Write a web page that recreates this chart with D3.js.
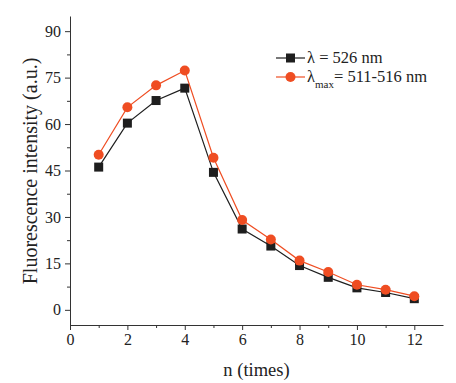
<!DOCTYPE html>
<html>
<head>
<meta charset="utf-8">
<script src="https://cdn.jsdelivr.net/npm/d3@7"></script>
<style>
  body { margin: 0; background: #fff; }
  svg text { font-family: "Liberation Serif", "Times New Roman", Times, "DejaVu Serif", serif !important; fill: #222; }
  .axis path, .axis line { stroke: #333; }
</style>
</head>
<body>
<div id="chart"></div>
<script>
// data
var nTimes = [1, 2, 3, 4, 5, 6, 7, 8, 9, 10, 11, 12];
var black526 = [46.1, 60.3, 67.6, 71.6, 44.4, 26.1, 20.6, 14.3, 10.5, 7.1, 5.6, 3.6];
var redMax = [50.1, 65.4, 72.5, 77.3, 49.1, 29.0, 22.7, 15.9, 12.2, 8.1, 6.5, 4.4];
var xTicks = [0, 2, 4, 6, 8, 10, 12];
var yTicks = [0, 15, 30, 45, 60, 75, 90];

var W = 456, H = 383;
var margin = { top: 16, right: 13, bottom: 58, left: 70 };
var width = W - margin.left - margin.right;
var height = H - margin.top - margin.bottom;
var serif = '"Liberation Serif", "Times New Roman", serif';

var svg = d3.select("#chart").append("svg")
    .attr("width", W)
    .attr("height", H)
    .attr("font-family", serif)
    .append("g")
    .attr("transform", "translate(" + margin.left + "," + margin.top + ")");

var xScale = d3.scaleLinear().domain([0, 13]).range([0, width]);
var yScale = d3.scaleLinear().domain([-4.9, 94.9]).range([height, 0]);

// minor ticks
svg.append("g")
    .attr("class", "axis")
    .attr("transform", "translate(0," + height + ")")
    .call(d3.axisBottom(xScale).tickValues(d3.range(1, 13, 2)).tickSize(3).tickFormat(""))
    .select(".domain").remove();
svg.append("g")
    .attr("class", "axis")
    .call(d3.axisLeft(yScale).tickValues(d3.range(7.5, 90, 15)).tickSize(3).tickFormat(""))
    .select(".domain").remove();

var xAxis = svg.append("g")
    .attr("class", "axis")
    .attr("transform", "translate(0," + height + ")")
    .call(d3.axisBottom(xScale).tickValues(xTicks).tickSize(5).tickSizeOuter(0).tickPadding(4));
xAxis.attr("font-family", serif);
xAxis.selectAll("text").style("font-size", "16px").attr("fill", "#222");

var yAxis = svg.append("g")
    .attr("class", "axis")
    .call(d3.axisLeft(yScale).tickValues(yTicks).tickSize(5).tickSizeOuter(0).tickPadding(4));
yAxis.attr("font-family", serif);
yAxis.selectAll("text").style("font-size", "16px").attr("fill", "#222");

// axis titles
svg.append("text")
    .attr("x", width / 2)
    .attr("y", height + 51)
    .attr("text-anchor", "middle")
    .style("font-size", "18.5px")
    .text("n (times)");

svg.append("text")
    .attr("transform", "rotate(-90)")
    .attr("x", -155)
    .attr("y", -33)
    .attr("text-anchor", "middle")
    .style("font-size", "20px")
    .text("Fluorescence intensity (a.u.)");

var series = [
    { name: "526", values: black526, color: "#1e1e1e", shape: "square" },
    { name: "max", values: redMax, color: "#ef4d22", shape: "circle" }
];

var line = d3.line()
    .x(function (d, i) { return xScale(nTimes[i]); })
    .y(function (d) { return yScale(d); });

series.forEach(function (s) {
    svg.append("path")
        .attr("d", line(s.values))
        .attr("fill", "none")
        .attr("stroke", s.color)
        .attr("stroke-width", 1.2);

    var g = svg.append("g");
    if (s.shape === "square") {
        g.selectAll("rect")
            .data(s.values).enter()
            .append("rect")
            .attr("x", function (d, i) { return xScale(nTimes[i]) - 4.5; })
            .attr("y", function (d) { return yScale(d) - 4.5; })
            .attr("width", 9)
            .attr("height", 9)
            .attr("fill", s.color);
    } else {
        g.selectAll("circle")
            .data(s.values).enter()
            .append("circle")
            .attr("cx", function (d, i) { return xScale(nTimes[i]); })
            .attr("cy", function (d) { return yScale(d); })
            .attr("r", 5)
            .attr("fill", s.color);
    }
});

// legend
var lx = 276 - margin.left, ly1 = 58 - margin.top, ly2 = 77 - margin.top;
svg.append("line").attr("x1", lx).attr("x2", lx + 29).attr("y1", ly1).attr("y2", ly1)
    .attr("stroke", series[0].color).attr("stroke-width", 1.2);
svg.append("rect").attr("x", lx + 10).attr("y", ly1 - 4.5).attr("width", 9).attr("height", 9)
    .attr("fill", series[0].color);
svg.append("text").attr("x", lx + 31).attr("y", ly1 + 5).style("font-size", "16.5px")
    .text("\u03bb = 526 nm");

svg.append("line").attr("x1", lx).attr("x2", lx + 29).attr("y1", ly2).attr("y2", ly2)
    .attr("stroke", series[1].color).attr("stroke-width", 1.2);
svg.append("circle").attr("cx", lx + 14.5).attr("cy", ly2).attr("r", 5)
    .attr("fill", series[1].color);
var t2 = svg.append("text").attr("x", lx + 31).attr("y", ly2 + 5).style("font-size", "16.5px");
t2.append("tspan").text("\u03bb");
t2.append("tspan").attr("dy", 6).style("font-size", "11px").text("max");
t2.append("tspan").attr("dy", -6).text("= 511-516 nm");
</script>
</body>
</html>
